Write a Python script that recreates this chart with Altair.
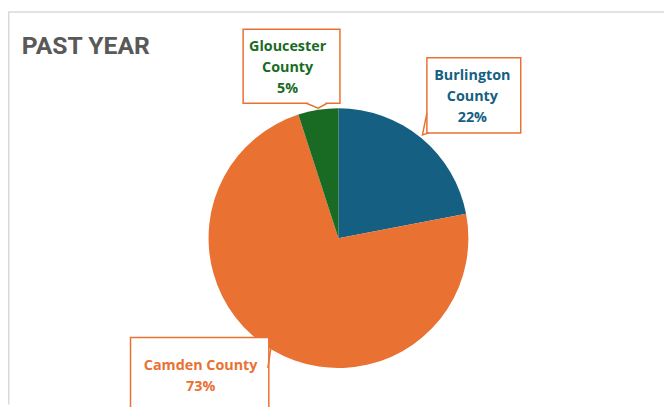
import altair as alt
import pandas as pd

# ---- data ----
counties = ["Burlington County", "Camden County", "Gloucester County"]
shares = [22, 73, 5]
colors = ["#156082", "#E97132", "#196B24"]
label_lines = [
    ["Burlington", "County", "22%"],
    ["Camden County", "73%"],
    ["Gloucester", "County", "5%"],
]
title_text = "PAST YEAR"

# ---- layout (pixel positions within the chart) ----
W, H = 664, 399
CX, CY, R = 334.5, 230.5, 131.5
label_x = [470, 195, 283]
label_y = [66, 359.5, 37]   # centre of first line
box_x = [424, 124, 238]
box_x2 = [519, 264, 336]
box_y = [48, 331, 19]
box_y2 = [124, 420, 94]
pointers = {
    "Burlington County": [(424, 104), (419.5, 126), (426, 124)],
    "Camden County": [(263, 362), (268, 329)],
    "Gloucester County": [(302, 94), (314, 99), (323, 94)],
}
ORANGE = "#E97132"

pie_df = pd.DataFrame({"county": counties, "pct": shares, "idx": list(range(len(counties)))})

lab_df = pd.DataFrame({
    "county": counties,
    "text": label_lines,
    "x": label_x, "y": label_y,
    "bx": box_x, "bx2": box_x2, "by": box_y, "by2": box_y2,
})

ptr_rows = []
for c, pts in pointers.items():
    for i, (px, py) in enumerate(pts):
        ptr_rows.append({"county": c, "seq": i, "px": px, "py": py})
ptr_df = pd.DataFrame(ptr_rows)

color_scale = alt.Scale(domain=counties, range=colors)

pie = alt.Chart(pie_df).mark_arc(outerRadius=R).encode(
    theta=alt.Theta("pct:Q", stack=True),
    order=alt.Order("idx:Q"),
    color=alt.Color("county:N", scale=color_scale, legend=None),
    x=alt.value(CX),
    y=alt.value(CY),
)

boxes = alt.Chart(lab_df).mark_rect(fill="white", stroke=ORANGE, strokeWidth=1.5).encode(
    x=alt.X("bx:Q", scale=None),
    x2="bx2:Q",
    y=alt.Y("by:Q", scale=None),
    y2="by2:Q",
)

gap = alt.Chart(pd.DataFrame({"a": [0]})).mark_rule(color="white", strokeWidth=2.5).encode(
    x=alt.value(303.5), x2=alt.value(321.5), y=alt.value(94)
)

ptrs = alt.Chart(ptr_df).mark_line(color=ORANGE, strokeWidth=1.5).encode(
    x=alt.X("px:Q", scale=None),
    y=alt.Y("py:Q", scale=None),
    detail="county:N",
    order="seq:Q",
)

texts = alt.Chart(lab_df).mark_text(
    font="Open Sans", fontSize=14.5, fontWeight="bold", lineHeight=21.5,
    align="center", baseline="middle",
).encode(
    x=alt.X("x:Q", scale=None),
    y=alt.Y("y:Q", scale=None),
    text="text",
    color=alt.Color("county:N", scale=color_scale, legend=None),
)

title = alt.Chart(pd.DataFrame({"t": [title_text]})).mark_text(
    font="Roboto", fontSize=25, fontWeight="bold", color="#595959",
    align="left", baseline="alphabetic",
).encode(x=alt.value(14), y=alt.value(44), text="t:N")

border_top = alt.Chart(pd.DataFrame({"a": [0]})).mark_rule(color="#d9d9d9", strokeWidth=1.5).encode(
    x=alt.value(0), x2=alt.value(W), y=alt.value(1.5)
)
border_left = alt.Chart(pd.DataFrame({"a": [0]})).mark_rule(color="#d9d9d9", strokeWidth=1.5).encode(
    x=alt.value(0.75), y=alt.value(1.5), y2=alt.value(H)
)

chart = alt.layer(
    pie, boxes, gap, ptrs, texts, title, border_top, border_left
).properties(
    width=W, height=H, padding=0,
    autosize=alt.AutoSizeParams(type="none"),
    background="white",
).configure_view(stroke=None)

chart.save("out.html", embed_options={"renderer": "svg", "actions": False})
